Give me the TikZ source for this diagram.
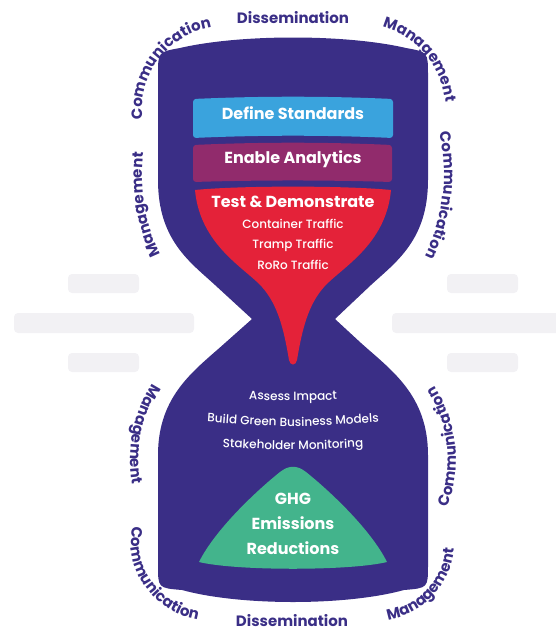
\documentclass[tikz,border=0pt]{standalone}
\usepackage{fontspec}
\setmainfont{Poppins}
\newfontfamily\poppinsmedium{Poppins}[UprightFont=* Medium]
\usetikzlibrary{decorations.text}

\definecolor{navy}{HTML}{3A2E86}
\definecolor{skyband}{HTML}{3AA3DD}
\definecolor{plumband}{HTML}{912B6C}
\definecolor{redband}{HTML}{E42239}
\definecolor{greenmound}{HTML}{43B48C}
\definecolor{greybar}{HTML}{F2F1F4}

\newcommand\ringfont{\fontsize{15}{15}\selectfont\bfseries\color{navy}}
\newcommand\subfont{\fontsize{12}{12}\selectfont\poppinsmedium\color{white}}

% text set along a circular arc: centre, radius, start angle, end angle, text
\newcommand\ringlabel[5]{%
  \path[decorate, decoration={text along path, text align=center,
        text={|\ringfont|#5}}]
    (#1) ++(#3:#2) arc[start angle=#3, end angle=#4, radius=#2];}

% white text on a gently sagging line: left end, control, right end, text
\newcommand\sagline[4]{%
  \path[decorate, decoration={text along path, text align=center,
        text={|\subfont|#4}}]
    (#1) .. controls (#2) .. (#3);}

\tikzset{
  every node/.style={inner sep=0pt, outer sep=0pt},
  greyline/.style={fill=greybar, rounded corners=4pt},
  headline/.style={text=white, anchor=base, font=\fontsize{16}{16}\selectfont\bfseries},
  subline/.style={text=white, anchor=base, font=\subfont},
  ringline/.style={text=navy, anchor=base, font=\fontsize{15}{15}\selectfont\bfseries},
}

\begin{document}
\begin{tikzpicture}[x=1pt, y=1pt]
\useasboundingbox (0,0) rectangle (556,-630);

% faint bars on both sides of the neck
\begin{scope}
  \clip (0,0) rectangle (556,-630);
  \fill[greyline] (68,-274) rectangle (139,-293);
  \fill[greyline] (14,-313) rectangle (194,-333);
  \fill[greyline] (68,-353) rectangle (139,-372);
  \fill[greyline] (447,-274) rectangle (518,-293);
  \fill[greyline] (392,-313) rectangle (570,-333);
  \fill[greyline] (447,-353) rectangle (518,-372);
\end{scope}

% hourglass body
\fill[navy] (158,-75) .. controls (158,-52) .. (180,-48)
  .. controls (240,-34) and (346,-34) .. (406,-48)
  .. controls (428,-52) .. (428,-75)
  -- (428,-180)
  .. controls (428,-240) and (396,-262) .. (371,-285)
  -- (335,-319)
  -- (361,-343)
  .. controls (391,-370) and (428,-395) .. (428,-455)
  -- (428,-565)
  .. controls (428,-588) .. (404,-590)
  .. controls (346,-606) and (240,-606) .. (182,-590)
  .. controls (158,-588) .. (158,-565)
  -- (158,-455)
  .. controls (158,-395) and (195,-370) .. (225,-343)
  -- (252,-319)
  -- (215,-285)
  .. controls (190,-262) and (158,-240) .. (158,-180)
  -- cycle;

% upper bands
\fill[skyband, rounded corners=3pt] (193,-99) .. controls (260,-96) and (326,-96) .. (393,-99)
  -- (393,-138) .. controls (326,-135) and (260,-135) .. (193,-138) -- cycle;
\fill[plumband, rounded corners=3pt] (193,-145) .. controls (260,-142) and (326,-142) .. (392,-145)
  -- (392,-182) .. controls (326,-180) and (260,-180) .. (193,-182) -- cycle;

% funnel
\fill[redband] (195,-190) .. controls (240,-185.5) and (346,-185.5) .. (391,-190)
  .. controls (386,-245) and (341,-268) .. (324,-287)
  .. controls (308,-305) and (302,-330) .. (297,-360)
  .. controls (296,-366) and (290,-366) .. (289,-360)
  .. controls (284,-330) and (278,-305) .. (262,-287)
  .. controls (245,-268) and (200,-245) .. (195,-190) -- cycle;

% mound
\fill[greenmound] (199,-562) .. controls (215,-530) and (255,-492) .. (280,-472)
  .. controls (289,-465) and (297,-465) .. (306,-472)
  .. controls (331,-492) and (371,-530) .. (387,-562)
  .. controls (350,-571) and (236,-571) .. (199,-562) -- cycle;

% texts inside
\node[headline] (std) at (293,-119) {Define Standards};
\node[headline] (ana) at (293,-163) {Enable Analytics};
\node[headline] (tst) at (293,-207) {Test \& Demonstrate};
\node[subline] (con) at (293,-228) {Container Traffic};
\node[subline] (trp) at (293,-248) {Tramp Traffic};
\node[subline] (ror) at (293,-269) {RoRo Traffic};
\sagline{203,-397}{293,-402}{383,-397}{Assess Impact}
\sagline{193,-421}{293,-428}{393,-421}{Build Green Business Models}
\sagline{203,-446}{293,-451}{383,-446}{Stakeholder Monitoring}
\node[headline] (ghg) at (293,-504) {GHG};
\node[headline] (emi) at (293,-529) {Emissions};
\node[headline] (red) at (293,-554) {Reductions};

% ring of labels, upper half
\node[ringline] (dtop) at (293,-23) {Dissemination};
\ringlabel{226,-110}{84}{200}{86}{Communication}
\ringlabel{360,-110}{86}{95}{-15}{Management}
\ringlabel{262,-175}{182}{20}{-33}{Communication}
\ringlabel{324,-175}{182}{215}{164}{Management}

% ring of labels, lower half
\node[ringline] (dbot) at (292,-626) {Dissemination};
\ringlabel{270,-460}{140}{145}{192}{Management}
\ringlabel{211,-541}{80}{165}{265}{Communication}
\ringlabel{375,-541}{80}{-95}{9}{Management}
\ringlabel{316,-460}{140}{-25}{37}{Communication}
\end{tikzpicture}
\end{document}
